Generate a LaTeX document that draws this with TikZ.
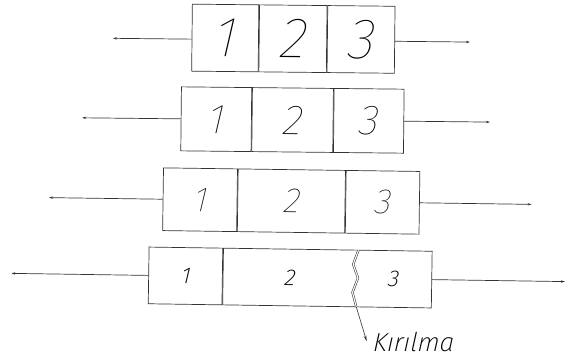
\documentclass[tikz,border=0pt]{standalone}
\usepackage{fontspec}
\usetikzlibrary{arrows.meta}
\newfontfamily\letterfont{Fira Sans Thin Italic}[FakeSlant=0.08]
\newfontfamily\smallletterfont{Fira Sans ExtraLight Italic}[FakeSlant=0.08]
\begin{document}
\begin{tikzpicture}[x=1pt,y=-1pt,
  ink/.style={draw=black!80,line width=0.7pt},
  cell/.style={ink,rectangle,inner sep=0pt,anchor=west},
  lead/.style={ink,-{Stealth[length=4pt,width=2.4pt]}},
  digit/.style={font=\letterfont\fontsize{#1}{#1}\selectfont,inner sep=0pt},
  smalldigit/.style={font=\smallletterfont\fontsize{#1}{#1}\selectfont,inner sep=0pt}]
\useasboundingbox (0,0) rectangle (568,358);

% first piece: three equal cells
\begin{scope}[shift={(292.3,38.7)},rotate=-0.6,transform shape]
  \tikzset{every node/.append style={minimum height=67pt}}
  \node[cell,minimum width=66.5pt,digit=57] (r1a) at (-100.65,0) {1};
  \node[cell,minimum width=67.5pt,digit=57] (r1b) at (r1a.east) {2};
  \node[cell,minimum width=67.3pt,digit=57] (r1c) at (r1b.east) {3};
  \coordinate (r1l) at (-179.3,1.5);
  \coordinate (r1r) at (177.7,1.5);
  \draw[lead] (r1a.west) ++(0,1.5) -- (r1l);
  \draw[lead] (r1c.east) ++(0,1.5) -- (r1r);
\end{scope}

% second piece: middle cell a little longer
\begin{scope}[shift={(291.4,120)},rotate=-0.6,transform shape]
  \tikzset{every node/.append style={minimum height=64pt}}
  \node[cell,minimum width=70.3pt,digit=42] (r2a) at (-110.65,0) {1};
  \node[cell,minimum width=81pt,digit=42] (r2b) at (r2a.east) {2};
  \node[cell,minimum width=70pt,digit=42] (r2c) at (r2b.east) {3};
  \coordinate (r2l) at (-209.35,0);
  \coordinate (r2r) at (198.65,0);
  \draw[lead] (r2a.west) -- (r2l);
  \draw[lead] (r2c.east) -- (r2r);
\end{scope}

% third piece: necking in the middle
\begin{scope}[shift={(290.2,201)},rotate=-0.8,transform shape]
  \tikzset{every node/.append style={minimum height=62.7pt}}
  \node[cell,minimum width=74pt,digit=35] (r3a) at (-127.5,0) {1};
  \node[cell,minimum width=107.3pt,digit=35] (r3b) at (r3a.east) {2};
  \node[cell,minimum width=73.7pt,digit=35] (r3c) at (r3b.east) {3};
  \coordinate (r3l) at (-241.2,0);
  \coordinate (r3r) at (241.5,0);
  \draw[lead] (r3a.west) -- (r3l);
  \draw[lead] (r3c.east) -- (r3r);
\end{scope}

% fourth piece: broken between 2 and 3
\begin{scope}[shift={(289.5,277.5)},rotate=-0.85,transform shape]
  \tikzset{every node/.append style={minimum height=56.7pt}}
  \node[cell,minimum width=73.7pt,smalldigit=23] (r4a) at (-141.2,0) {1};
  \node[cell,minimum width=208.7pt] (r4b) at (r4a.east) {};
  \node[smalldigit=23] (r4two) at (0.2,0) {2};
  \node[smalldigit=23] (r4three) at (103.8,0) {3};
  \draw[draw=black!80,line width=0.55pt,double=white,double distance=1.1pt]
    (68.5,-28.35) -- (63.5,-14) -- (68.5,-0.5) -- (63.2,14) -- (67.2,28.35);
  \coordinate (brk) at (67.2,28.35);
  \coordinate (r4l) at (-278.2,0);
  \coordinate (r4r) at (275.5,0);
  \draw[lead] (r4a.west) -- (r4l);
  \draw[lead] (r4b.east) -- (r4r);
\end{scope}

\node[font=\smallletterfont\fontsize{26}{26}\selectfont,anchor=base west,inner sep=0pt]
  (kir) at (372.5,351.7) {Kırılma};
\coordinate (kirtip) at (366.7,341.5);
\draw[ink,line width=0.6pt,-{Stealth[length=6pt,width=2.6pt]}] (brk) -- (kirtip);
\end{tikzpicture}
\end{document}
